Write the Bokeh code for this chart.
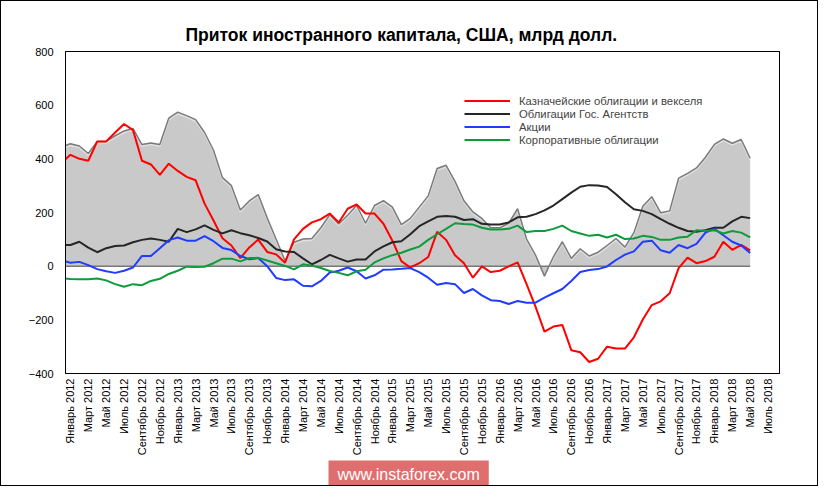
import numpy as np
from bokeh.plotting import figure
from bokeh.models import Range1d, FixedTicker, Legend, LegendItem, Title, LinearAxis
from bokeh.embed import file_html
from bokeh.resources import INLINE

# ---- data (monthly, Dec 2011 .. May 2018; Dec 2011 lies just left of the axis) ----
month_names = ["Январь", "Февраль", "Март", "Апрель", "Май", "Июнь", "Июль",
               "Август", "Сентябрь", "Октябрь", "Ноябрь", "Декабрь"]
years = [2012, 2013, 2014, 2015, 2016, 2017, 2018]
axis_months = [f"{m} {y}" for y in years for m in month_names][:79]   # Январь 2012 .. Июль 2018
month_index = list(range(-1, 77))

total = [445, 456, 448, 420, 465, 465, 486, 504, 513, 453, 459, 453, 552, 574, 561, 546,
         498, 432, 330, 300, 209, 243, 267, 180, 100, 20, 89, 101, 103, 143, 192, 157,
         190, 227, 160, 226, 244, 220, 155, 178, 220, 262, 364, 376, 316, 244, 202, 178,
         143, 143, 160, 214, 101, 41, -37, 35, 91, 29, 65, 38, 52, 77, 103, 71, 125, 223,
         259, 199, 206, 328, 346, 366, 406, 454, 474, 458, 472, 402]
treasuries = [385, 415, 400, 393, 465, 465, 498, 530, 507, 393, 379, 340, 382, 355, 333, 320,
              233, 170, 104, 77, 30, 70, 99, 53, 44, 13, 100, 139, 163, 175, 196, 163, 214,
              230, 196, 196, 158, 95, 19, -5, 11, 34, 128, 98, 41, 11, -43, -1, -22, -17, -1,
              14, -67, -151, -244, -225, -219, -313, -321, -357, -345, -300, -307, -307, -265,
              -199, -145, -131, -101, -7, 32, 11, 19, 35, 91, 61, 79, 59]
agencies = [79, 79, 91, 69, 52, 67, 75, 77, 89, 98, 103, 98, 91, 139, 127, 137, 152, 135, 122,
            134, 123, 115, 105, 92, 63, 55, 53, 29, 7, 23, 42, 29, 17, 25, 25, 55, 74, 89, 93,
            119, 149, 167, 184, 187, 184, 172, 175, 158, 155, 155, 163, 182, 184, 194, 208, 226,
            250, 274, 296, 302, 301, 295, 268, 238, 212, 206, 194, 175, 158, 143, 131, 128, 134,
            143, 143, 167, 184, 179]
stocks = [22, 13, 16, 4, -11, -19, -25, -17, -5, 38, 38, 67, 97, 107, 95, 95, 112, 93, 68, 60,
          38, 26, 30, 0, -44, -52, -49, -73, -75, -55, -24, -17, -5, -19, -46, -34, -13, -12,
          -10, -7, -22, -43, -69, -63, -67, -100, -85, -109, -127, -130, -141, -130, -136, -136,
          -117, -101, -85, -55, -22, -14, -11, -1, 23, 43, 55, 91, 95, 59, 50, 79, 67, 83, 125,
          139, 115, 91, 77, 49]
corporate = [-44, -48, -49, -49, -46, -53, -67, -77, -67, -71, -55, -47, -29, -17, -2, -3, -2,
             11, 28, 28, 18, 30, 31, 21, 11, 1, -12, 7, 2, -7, -18, -25, -34, -19, -13, 14, 29,
             41, 50, 62, 73, 98, 119, 139, 160, 157, 155, 143, 137, 137, 139, 151, 127, 131, 131,
             139, 151, 131, 122, 113, 117, 107, 117, 101, 103, 113, 109, 98, 98, 107, 110, 134,
             131, 134, 122, 131, 125, 107]

series_names = ["Казначейские облигации и векселя", "Облигации Гос. Агентств",
                "Акции", "Корпоративные облигации"]
y_ticks = [-400, -200, 0, 200, 400, 600, 800]
title_text = "Приток иностранного капитала, США, млрд долл."
watermark_text = "www.instaforex.com"

FONT = "Liberation Sans"

p = figure(width=818, height=486, output_backend="svg", toolbar_location=None,
           x_range=Range1d(-0.55, 79.28), y_range=Range1d(-400, 800),
           min_border_left=64, min_border_right=40, min_border_top=50, min_border_bottom=112,
           styles={"border": "1px solid black"})
p.title = Title(text=title_text, align="left", offset=120, text_font=FONT,
                text_font_style="bold", text_font_size="17.5px", text_color="black",
                standoff=13)
p.background_fill_color = "white"
p.border_fill_color = "white"
p.outline_line_color = "black"
p.grid.visible = False

# gray total area
p.varea(x=month_index, y1=[0] * len(month_index), y2=total, fill_color="#c9c9c9")
p.line(month_index, [0] * len(month_index), line_color="#777777", line_width=1.5)
p.line(month_index, [v - 6 for v in total], line_color="white", line_width=1.5, line_alpha=0.45)
p.line(month_index, total, line_color="#7b7b7b", line_width=1.5)

colors = ["#ff0000", "#262626", "#1f3cff", "#0f9a3c"]
renderers = []
for vals, col in zip([treasuries, agencies, stocks, corporate], colors):
    r = p.line(month_index, vals, line_color=col, line_width=2)
    renderers.append(r)

# axes
p.xaxis.ticker = FixedTicker(ticks=list(range(0, 79, 2)))
p.xaxis.major_label_overrides = {i: axis_months[i] for i in range(0, 79, 2)}
p.xaxis.major_label_orientation = np.pi / 2
p.yaxis.ticker = FixedTicker(ticks=y_ticks)
for ax in (p.xaxis, p.yaxis):
    ax.axis_line_color = "black"
    ax.axis_line_width = 1
    ax.major_tick_line_color = None
    ax.minor_tick_line_color = None
    ax.major_tick_out = 0
    ax.major_tick_in = 0
    ax.major_label_text_font = FONT
    ax.major_label_text_font_size = "11px"
    ax.major_label_text_color = "black"
p.xaxis.major_label_standoff = 5
p.yaxis.major_label_standoff = 12

# frame edges on top and right
for side in ("above", "right"):
    fa = LinearAxis(ticker=FixedTicker(ticks=[]), axis_line_color="black", axis_line_width=1,
                    major_tick_line_color=None, minor_tick_line_color=None,
                    major_tick_out=0, major_tick_in=0, major_label_standoff=0)
    p.add_layout(fa, side)

legend = Legend(items=[LegendItem(label=n, renderers=[r]) for n, r in zip(series_names, renderers)],
                location=(399, 227))
legend.background_fill_alpha = 0
legend.border_line_alpha = 0
legend.label_text_font = FONT
legend.label_text_font_size = "11.3px"
legend.glyph_width = 46
legend.glyph_height = 13
legend.label_height = 13
legend.label_standoff = 9
legend.spacing = 0
legend.padding = 0
legend.margin = 0
p.add_layout(legend)

# watermark under the axis labels
wm = Title(text=watermark_text, align="left", offset=263, text_font=FONT,
           text_font_size="16px", text_font_style="normal", text_color="white",
           background_fill_color="#dc6262", background_fill_alpha=0.92,
           padding=(9, 5), standoff=0)
p.add_layout(wm, "below")

open("out.html", "w").write(file_html(p, INLINE))
